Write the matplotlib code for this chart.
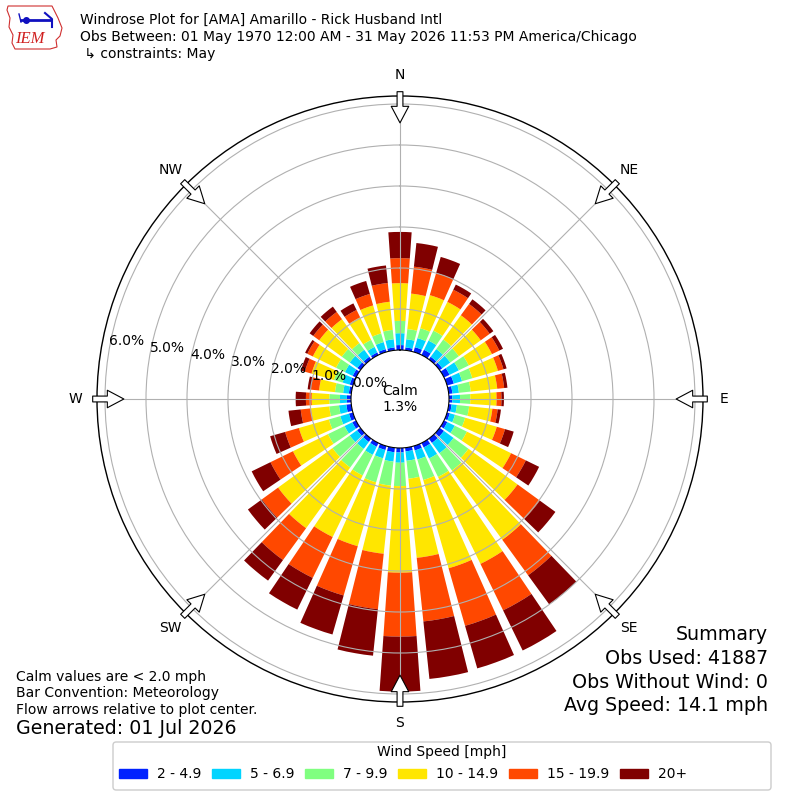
import numpy as np
import matplotlib
matplotlib.use("Agg")
import matplotlib.pyplot as plt
from matplotlib.patches import Patch, Polygon, FancyBboxPatch

# wind rose data: percent of observations per 10 degree sector and speed bin
directions = np.arange(0, 360, 10)
speed_labels = ["2 - 4.9", "5 - 6.9", "7 - 9.9", "10 - 14.9", "15 - 19.9", "20+"]
colors = ["#0022ff", "#00d4ff", "#80ff80", "#ffe600", "#ff4800", "#800000"]

b_2_5 = [0.12, 0.07, 0.12, 0.14, 0.08, 0.08, 0.15, 0.17, 0.09, 0.08, 0.07, 0.07,
         0.09, 0.13, 0.13, 0.12, 0.11, 0.09, 0.11, 0.11, 0.10, 0.10, 0.10, 0.10,
         0.10, 0.10, 0.12, 0.10, 0.06, 0.08, 0.09, 0.09, 0.08, 0.07, 0.07, 0.07]
b_5_7 = [0.29, 0.20, 0.23, 0.25, 0.23, 0.24, 0.25, 0.21, 0.16, 0.19, 0.13, 0.13,
         0.20, 0.29, 0.31, 0.30, 0.23, 0.23, 0.25, 0.23, 0.21, 0.22, 0.21, 0.22,
         0.21, 0.22, 0.18, 0.17, 0.14, 0.18, 0.21, 0.23, 0.21, 0.15, 0.18, 0.20]
b_7_10 = [0.30, 0.25, 0.25, 0.27, 0.29, 0.26, 0.27, 0.26, 0.29, 0.25, 0.30, 0.26,
          0.33, 0.45, 0.52, 0.50, 0.52, 0.44, 0.57, 0.59, 0.61, 0.56, 0.56, 0.52,
          0.45, 0.29, 0.24, 0.26, 0.20, 0.22, 0.24, 0.24, 0.20, 0.19, 0.22, 0.23]
b_10_15 = [0.92, 0.87, 0.84, 0.78, 0.73, 0.66, 0.63, 0.65, 0.65, 0.64, 0.57, 0.80,
           1.20, 1.48, 2.09, 2.36, 2.24, 1.94, 2.11, 1.67, 1.62, 1.67, 1.83, 1.64,
           0.95, 0.76, 0.45, 0.43, 0.39, 0.57, 0.63, 0.68, 0.72, 0.61, 0.71, 0.69]
b_15_20 = [0.61, 0.66, 0.56, 0.33, 0.34, 0.27, 0.20, 0.14, 0.17, 0.12, 0.13, 0.21,
           0.40, 0.67, 1.07, 1.26, 1.46, 1.56, 1.56, 1.36, 1.25, 1.11, 0.96, 0.49,
           0.61, 0.35, 0.25, 0.14, 0.20, 0.17, 0.15, 0.18, 0.22, 0.20, 0.29, 0.46]
b_20 = [0.64, 0.58, 0.41, 0.14, 0.14, 0.11, 0.10, 0.08, 0.08, 0.06, 0.08, 0.22,
        0.36, 0.47, 0.88, 1.09, 1.08, 1.41, 1.34, 1.14, 0.99, 0.86, 0.62, 0.42,
        0.51, 0.38, 0.30, 0.25, 0.08, 0.10, 0.06, 0.11, 0.16, 0.18, 0.33, 0.43]
bins = [b_2_5, b_5_7, b_7_10, b_10_15, b_15_20, b_20]

calm_pct = 1.3
compass = ["N", "NE", "E", "SE", "S", "SW", "W", "NW"]
ring_ticks = [0, 1, 2, 3, 4, 5, 6]

fig = plt.figure(figsize=(8, 8), dpi=100)
ax = fig.add_axes([0.12125, 0.1225, 0.7575, 0.7575], projection="polar")
ax.set_theta_zero_location("N")
ax.set_theta_direction(-1)
ax.set_rorigin(-1.195)
ax.set_ylim(0, 6.195)

theta = np.radians(directions)
bottom = np.zeros(len(directions))
for vals, col, lab in zip(bins, colors, speed_labels):
    vals = np.array(vals)
    ax.bar(theta, vals, width=np.radians(8), bottom=bottom, color=col,
           edgecolor="none", label=lab)
    bottom = bottom + vals

ax.set_yticks(ring_ticks[1:])
ax.set_yticklabels([])
ax.set_thetagrids(range(0, 360, 45), labels=[])
ax.grid(True, color="#b0b0b0", lw=0.8)
ax.spines["polar"].set_linewidth(1.0)

for r in ring_ticks:
    ax.text(np.radians(280), r, "%.1f%%" % r, ha="left", va="bottom",
            fontsize=10)

for i, name in enumerate(compass):
    ang = np.radians(i * 45)
    ax.text(ang, 6.71, name, ha="center", va="center", fontsize=10,
            clip_on=False)
    ax.annotate("", xy=(ang, 5.54), xytext=(ang, 6.3),
                annotation_clip=False,
                arrowprops=dict(arrowstyle="simple,head_length=0.85,head_width=0.9,tail_width=0.3",
                                fc="white", ec="black", lw=0.8,
                                shrinkA=0, shrinkB=0, mutation_scale=14))

ax.text(0, -1.195, "Calm\n%.1f%%" % calm_pct, ha="center", va="center",
        fontsize=10)

# header
fig.text(0.1, 0.975, "Windrose Plot for [AMA] Amarillo - Rick Husband Intl",
         fontsize=10, va="center")
fig.text(0.1, 0.954, "Obs Between: 01 May 1970 12:00 AM - 31 May 2026 11:53 PM America/Chicago",
         fontsize=10, va="center")
fig.text(0.1, 0.9325, " \u21b3 constraints: May", fontsize=10, va="center")

# rough IEM logo
lax = fig.add_axes([5 / 800, 1 - 52 / 800, 60 / 800, 48 / 800])
lax.set_xlim(0, 60)
lax.set_ylim(52, 4)
lax.axis("off")
iowa = [(3, 6), (47, 6), (50, 12), (53, 18), (57, 28), (55, 36), (51, 40),
        (52, 47), (45, 49), (10, 49), (7, 43), (8, 35), (4, 27), (5, 18), (2, 10)]
lax.add_patch(Polygon(iowa, closed=True, fill=False, ec="#d03030", lw=0.8))
lax.plot([16, 46], [20, 20], color="#1010c0", lw=2)
lax.plot([40, 47, 47], [13, 19, 27], color="#1010c0", lw=1.5)
lax.plot([21], [20], "o", color="#1010c0", ms=4)
lax.plot([14, 16], [14, 22], color="#1010c0", lw=1)
lax.text(25, 39, "IEM", color="#d02020", fontsize=12, family="Liberation Serif",
         style="italic", ha="center", va="center")

# footer notes
fig.text(0.02, 1 - 677 / 800, "Calm values are < 2.0 mph", fontsize=10, va="center")
fig.text(0.02, 1 - 693 / 800, "Bar Convention: Meteorology", fontsize=10, va="center")
fig.text(0.02, 1 - 710 / 800, "Flow arrows relative to plot center.", fontsize=10, va="center")
fig.text(0.02, 1 - 729 / 800, "Generated: 01 Jul 2026", fontsize=13.7, va="center")

summary = ["Summary", "Obs Used: 41887", "Obs Without Wind: 0", "Avg Speed: 14.1 mph"]
for k, line in enumerate(summary):
    fig.text(0.96, 1 - (635 + 23.5 * k) / 800, line, fontsize=13.7, ha="right",
             va="center")

# legend: frame and title drawn separately so the box matches the original
fig.patches.append(FancyBboxPatch((113 / 800, 10 / 800), 658 / 800, 48 / 800,
                                  boxstyle="round,pad=0,rounding_size=0.004",
                                  transform=fig.transFigure, fc="white",
                                  ec="#cccccc", lw=1.0))
fig.text(442 / 800, 1 - 752 / 800, "Wind Speed [mph]", fontsize=10,
         ha="center", va="center")
handles = [Patch(color=c, label=l) for c, l in zip(colors, speed_labels)]
fig.legend(handles=handles, loc="center left", bbox_to_anchor=(119 / 800, 1 - 774 / 800),
           ncol=6, fontsize=10, handlelength=2.0, handleheight=0.6,
           handletextpad=0.72, columnspacing=0.78, frameon=False,
           borderpad=0, borderaxespad=0)

fig.savefig("out.png", dpi=100)
